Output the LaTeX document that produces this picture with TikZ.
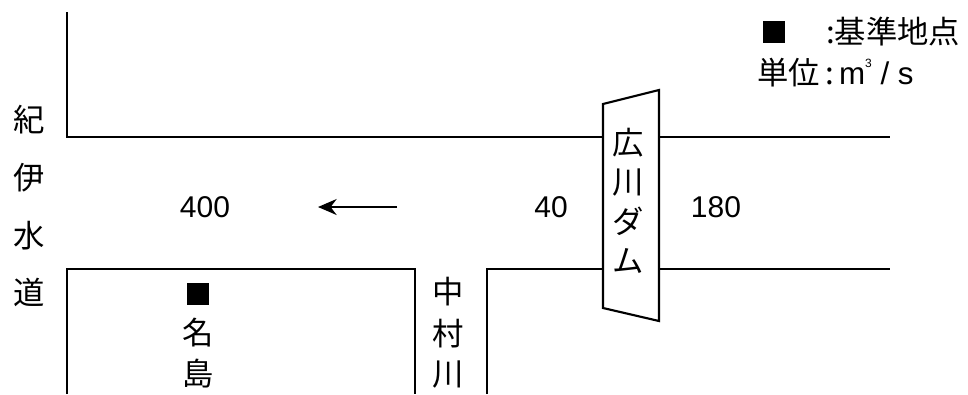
\documentclass[tikz,border=0pt]{standalone}
\usepackage{fontspec}
\setmainfont{Noto Sans CJK JP}
\newfontfamily\latinfont{Liberation Sans}
\usetikzlibrary{arrows.meta}

\begin{document}
\begin{tikzpicture}[x=0.75pt,y=-0.75pt,
	bank/.style={line width=2.2pt},
	kanji/.style={inner sep=0pt,font=\fontsize{23.5}{23.5}\selectfont},
	num/.style={inner sep=0pt,font=\latinfont\fontsize{22.5}{22.5}\selectfont},
	marker/.style={fill=black,inner sep=0pt,minimum size=17pt}]
	\useasboundingbox (0,0) rectangle (968,394);
	
	\coordinate (topend) at (67,12);
	\coordinate (upleft) at (67,137);
	\coordinate (upright) at (890,137);
	\coordinate (lowleft) at (67,269);
	\coordinate (lowright) at (890,269);
	\coordinate (nakaleft) at (415,269);
	\coordinate (nakaright) at (487,269);
	\coordinate (damtl) at (603,104);
	\coordinate (damtr) at (659,90);
	\coordinate (dambr) at (659,321);
	\coordinate (dambl) at (603,308);
	
	% river banks
	\draw[bank] (topend)--(upleft)--(upright);
	\draw[bank] (67,394)--(lowleft)--(nakaleft)--(415,394);
	\draw[bank] (487,394)--(nakaright)--(lowright);
	
	% dam
	\draw[line width=1.6pt,fill=white] (damtl)--(damtr)--(dambr)--(dambl)--cycle;
	\node[kanji] (dam1) at (628,143) {広};
	\node[kanji] (dam2) at (628,183) {川};
	\node[kanji] (dam3) at (628,221) {ダ};
	\node[kanji] (dam4) at (628,261) {ム};
	
	% kii channel
	\node[kanji] (kii1) at (29,120) {紀};
	\node[kanji] (kii2) at (29,178) {伊};
	\node[kanji] (kii3) at (29,236) {水};
	\node[kanji] (kii4) at (29,292) {道};
	
	% nakamura river
	\node[kanji] (naka1) at (448,292) {中};
	\node[kanji] (naka2) at (448,334) {村};
	\node[kanji] (naka3) at (448,375) {川};
	
	% reference point
	\node[marker] (najimamark) at (198,294) {};
	\node[kanji] (najima1) at (198,333) {名};
	\node[kanji] (najima2) at (198,374) {島};
	
	% discharges
	\node[num] (q400) at (205,207.5) {400};
	\node[num] (q40) at (551,207.5) {40};
	\node[num] (q180) at (716,207.5) {180};
	\coordinate (flowstart) at (397,207);
	\coordinate (flowend) at (318,207);
	\draw[line width=1.5pt,-{Stealth[length=14pt,width=12pt]}] (flowstart)--(flowend);
	
	% legend
	\node[marker] (legendmark) at (774,32) {};
	\node[kanji,anchor=west] (legend1) at (826,32) {:基準地点};
	\node[kanji,anchor=west] (legend2) at (757,73) {単位\,:\,{\latinfont m\raisebox{1.05ex}{\fontsize{9}{9}\selectfont 3}\;/\;s}};
\end{tikzpicture}
\end{document}
